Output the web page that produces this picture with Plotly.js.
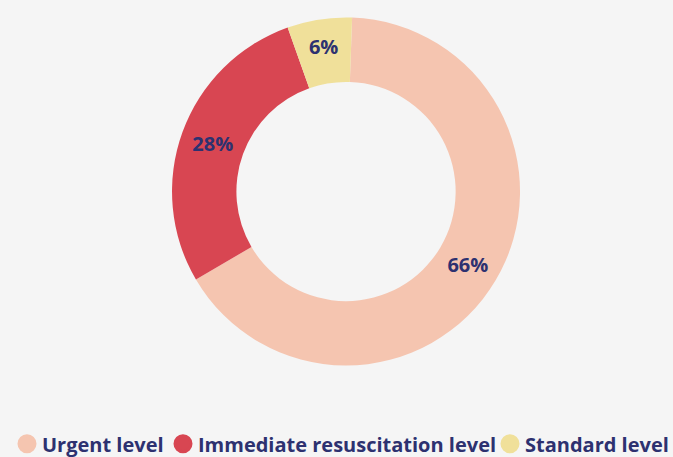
<!DOCTYPE html>
<html>
<head>
<meta charset="utf-8">
<script src="https://cdn.plot.ly/plotly-3.0.1.min.js"></script>
<style>html,body{margin:0;padding:0;background:#f5f5f5;}#chart{width:673px;height:457px;}</style>
</head>
<body>
<div id="chart"></div>
<script>
var categories = ["Urgent level", "Immediate resuscitation level", "Standard level"];
var values = [66, 28, 6];
var colors = ["#f5c5b0", "#d84652", "#f0e09a"];
var legendWidths = [111, 282, 141];
var navy = "#2d3170";

var traces = [{
  type: "pie",
  labels: categories,
  values: values,
  hole: 0.63,
  sort: false,
  direction: "clockwise",
  rotation: 2,
  marker: {colors: colors, line: {width: 0}},
  textinfo: "percent",
  texttemplate: "%{percent:.0%}",
  textposition: "inside",
  insidetextorientation: "horizontal",
  insidetextfont: {family: "Open Sans", size: 20, color: navy, weight: "bold"},
  showlegend: false,
  hoverinfo: "label+percent",
  domain: {x: [0.2556, 0.7727], y: [0.2002, 0.9617]}
}];

categories.forEach(function(c, i) {
  traces.push({
    type: "scatter",
    mode: "markers",
    x: [null], y: [null],
    name: c,
    legendwidth: legendWidths[i],
    marker: {symbol: "circle", size: 16, color: colors[i], line: {width: 3, color: colors[i]}},
    showlegend: true,
    hoverinfo: "skip"
  });
});

var layout = {
  width: 673, height: 457,
  margin: {l: 0, r: 0, t: 0, b: 0, autoexpand: false},
  paper_bgcolor: "#f5f5f5",
  plot_bgcolor: "#f5f5f5",
  xaxis: {visible: false},
  yaxis: {visible: false},
  showlegend: true,
  legend: {
    orientation: "h",
    x: 0.0104, xanchor: "left",
    y: 0.029, yanchor: "middle",
    font: {family: "Open Sans", size: 20, color: navy, weight: "bold"},
    bgcolor: "rgba(0,0,0,0)",
    itemclick: false, itemdoubleclick: false
  }
};

Plotly.newPlot("chart", traces, layout, {displayModeBar: false, staticPlot: true}).then(function(gd) {
  // pull legend labels a little closer to their symbols, as in the reference
  var texts = gd.querySelectorAll(".legend .legendtext");
  texts.forEach(function(t) { t.setAttribute("x", 35); });
});
</script>
</body>
</html>
